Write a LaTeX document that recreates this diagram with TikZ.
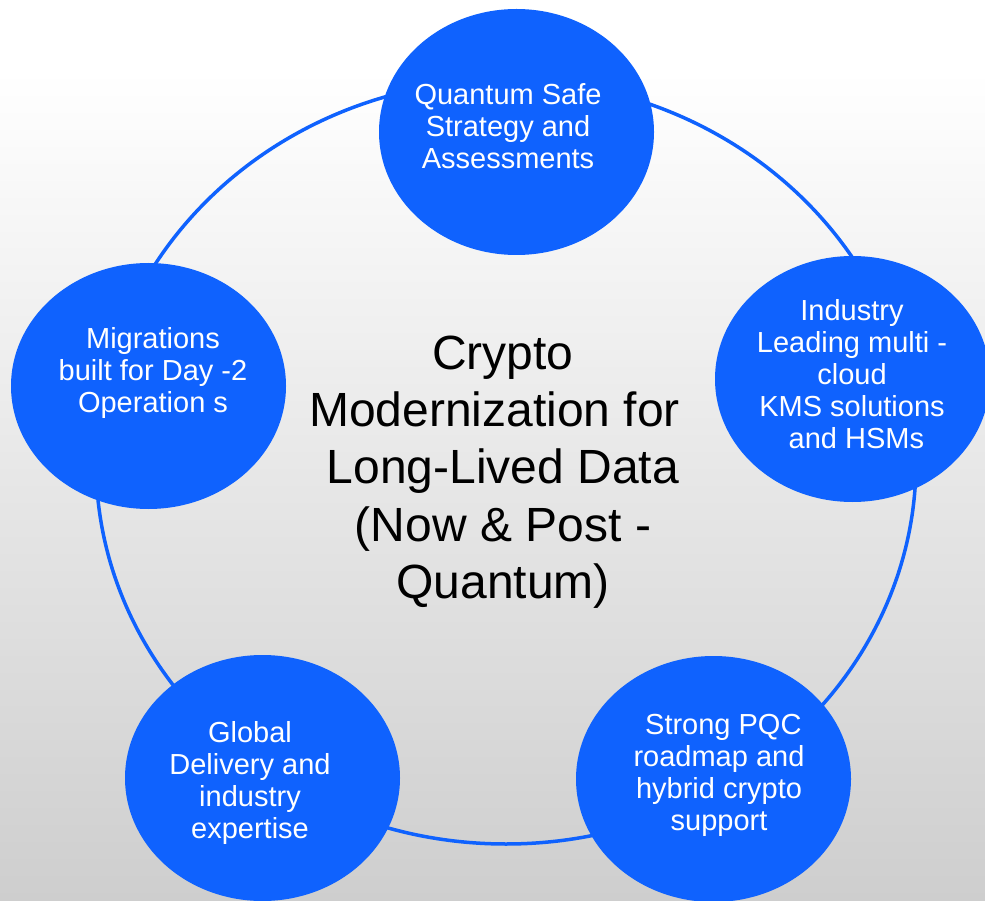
\documentclass[tikz,border=0pt]{standalone}
\usepackage{fontspec}
\setmainfont{Liberation Sans}
\definecolor{ibmblue}{RGB}{15,98,254}
\definecolor{bggray}{RGB}{206,206,206}
\begin{document}
\begin{tikzpicture}[x=1pt,y=-1pt,
  bubble/.style={fill=ibmblue, draw=none},
  bubtext/.style={text=white, align=center, font=\fontsize{29}{32}\selectfont, inner sep=0pt},
  hubtext/.style={text=black, align=center, font=\fontsize{48}{57.3}\selectfont, inner sep=0pt}]
\useasboundingbox (0,0) rectangle (985,901);
\fill[white] (0,0) rectangle (985,901);
\shade[top color=white, bottom color=bggray] (0,70) rectangle (985,901);
% ring
\draw[ibmblue, line width=3.5pt] (506,462) ellipse [x radius=410, y radius=382];
% bubbles
\fill[bubble] (516.5,132) ellipse [x radius=137.5, y radius=123];
\fill[bubble] (852.5,379) ellipse [x radius=137.5, y radius=123];
\fill[bubble] (713.5,779) ellipse [x radius=137.5, y radius=123];
\fill[bubble] (262.5,778) ellipse [x radius=137.5, y radius=123];
\fill[bubble] (148.5,386) ellipse [x radius=137.5, y radius=123];
% texts
\node[bubtext] (t1) at (508,126) {Quantum Safe\\Strategy and\\Assessments};
\node[bubtext] (t2) at (852,374) {Industry\\Leading multi -\\cloud\\KMS solutions\\\mbox{\hspace{0.3em}and HSMs}};
\node[bubtext] (t3) at (719,775) {\mbox{\hspace{0.3em}Strong PQC}\\roadmap and\\hybrid crypto\\support};
\node[bubtext] (t4) at (250,783) {Global\\Delivery and\\industry\\expertise};
\node[bubtext] (t5) at (153,373) {Migrations\\built for Day -2\\Operation s};
\node[hubtext] (hub) at (503,472) {Crypto\\\mbox{Modernization for\hspace{0.35em}}\\Long-Lived Data\\(Now \& Post -\\Quantum)};
\end{tikzpicture}
\end{document}
